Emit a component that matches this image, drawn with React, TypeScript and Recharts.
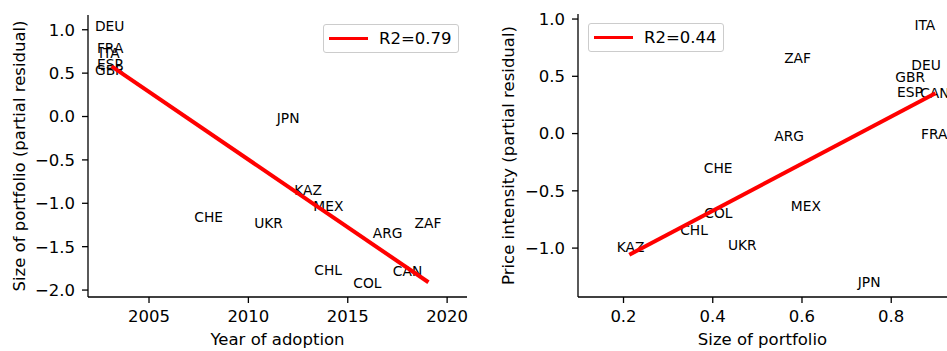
import React from "react";
import { ScatterChart, Scatter, XAxis, YAxis, Legend, Label } from "recharts";

// left panel: year of adoption vs size of portfolio
const leftCountries = ["DEU", "FRA", "ITA", "ESP", "GBR", "JPN", "KAZ", "MEX", "CHE", "UKR", "ZAF", "ARG", "CHL", "COL", "CAN"];
const leftYear = [2002.28, 2002.38, 2002.48, 2002.38, 2002.28, 2011.43, 2012.31, 2013.27, 2007.28, 2010.29, 2018.36, 2016.26, 2013.32, 2015.28, 2017.27];
const leftSize = [0.99, 0.73, 0.67, 0.55, 0.48, -0.07, -0.9, -1.09, -1.21, -1.29, -1.28, -1.4, -1.83, -1.98, -1.84];
const leftFitX = [2003.12, 2019.06];
const leftFitY = [0.577, -1.91];
const leftXTicks = [2005, 2010, 2015, 2020];
const leftYTicks = [-2.0, -1.5, -1.0, -0.5, 0.0, 0.5, 1.0];

// right panel: size of portfolio vs price intensity
const rightCountries = ["ITA", "ZAF", "DEU", "GBR", "ESP", "CAN", "FRA", "ARG", "CHE", "MEX", "COL", "CHL", "KAZ", "UKR", "JPN"];
const rightSize = [0.852, 0.56, 0.845, 0.809, 0.813, 0.865, 0.867, 0.538, 0.38, 0.575, 0.381, 0.327, 0.185, 0.434, 0.725];
const rightPrice = [0.904, 0.619, 0.555, 0.448, 0.316, 0.311, -0.044, -0.064, -0.343, -0.68, -0.738, -0.884, -1.038, -1.015, -1.34];
const rightFitX = [0.213, 0.899];
const rightFitY = [-1.058, 0.352];
const rightXTicks = [0.2, 0.4, 0.6, 0.8];
const rightYTicks = [-1.0, -0.5, 0.0, 0.5, 1.0];

const FONT = "'DejaVu Sans', sans-serif";
const TICK = { fill: "#000", fontSize: 16.5, fontFamily: FONT };
const AXIS = { stroke: "#000", strokeWidth: 1.3 };

const fmt1 = (v: number) => (v < -1e-9 ? "\u2212" : "") + Math.abs(v).toFixed(1);

const zip = (xs: number[], ys: number[], names?: string[]) =>
  xs.map((x, i) => ({ x, y: ys[i], name: names ? names[i] : "" }));

const CountryText = (props: any) => (
  <text x={props.cx} y={props.cy} fontSize={13.8} fontFamily={FONT} fill="#000">
    {props.payload.name}
  </text>
);

const yLabel = (text: string, x: number) => (props: any) => {
  const vb = props.viewBox || {};
  const cy = vb.y + vb.height / 2;
  return (
    <text x={x} y={cy} transform={`rotate(-90, ${x}, ${cy})`} textAnchor="middle"
      dominantBaseline="central" fontSize={16.5} fontFamily={FONT} fill="#000">
      {text}
    </text>
  );
};

const FitLegend = (props: any) => {
  const item = (props.payload || [])[0];
  if (!item) return null;
  return (
    <div style={{
      display: "flex", alignItems: "center", boxSizing: "border-box", height: 29, width: 136,
      border: "1px solid #cccccc", borderRadius: 3, background: "rgba(255,255,255,0.8)",
      paddingLeft: 5, fontFamily: FONT, fontSize: 16.5, color: "#000",
    }}>
      <div style={{ width: 39, height: 3.7, background: "#ff0000", marginRight: 11 }} />
      <span>{item.value}</span>
    </div>
  );
};

function Panel(p: {
  width: number; left: number; marginRight: number; top: number; yWidth: number;
  xDomain: [number, number]; yDomain: [number, number]; xTicks: number[]; yTicks: number[];
  xFmt: (v: number) => string; xLabel: string; yLabelText: string; yLabelX: number;
  points: { x: number; y: number; name: string }[]; fit: { x: number; y: number; name: string }[];
  fitName: string; legendPos: { left: number; top: number };
}) {
  return (
    <div style={{ position: "absolute", left: p.left, top: 0 }}>
      <ScatterChart width={p.width} height={351} margin={{ top: p.top, right: p.marginRight, bottom: 0, left: 0 }}>
        <XAxis type="number" dataKey="x" domain={p.xDomain} ticks={p.xTicks} allowDataOverflow
          tickFormatter={p.xFmt} tick={TICK} axisLine={AXIS} tickLine={AXIS} tickSize={6} tickMargin={7} height={54} interval={0}>
          <Label value={p.xLabel} position="insideBottom" offset={6} fill="#000" fontSize={16.5} fontFamily={FONT} />
        </XAxis>
        <YAxis type="number" dataKey="y" domain={p.yDomain} ticks={p.yTicks} allowDataOverflow
          tickFormatter={fmt1} tick={TICK} axisLine={AXIS} tickLine={AXIS} tickSize={6} tickMargin={7} width={p.yWidth} interval={0}>
          <Label content={yLabel(p.yLabelText, p.yLabelX)} />
        </YAxis>
        <Legend layout="vertical" align="center" verticalAlign="middle" content={FitLegend}
          wrapperStyle={{ left: p.legendPos.left, top: p.legendPos.top, width: "auto", height: "auto" }} />
        <Scatter data={p.points} shape={CountryText} legendType="none" isAnimationActive={false} />
        <Scatter data={p.fit} name={p.fitName} fill="#ff0000" legendType="line" line={{ stroke: "#ff0000", strokeWidth: 4 }}
          shape={() => <g />} isAnimationActive={false} />
      </ScatterChart>
    </div>
  );
}

export default function App() {
  return (
    <div style={{ position: "absolute", left: 0, top: 0, width: 947, height: 351, background: "#fff", overflow: "hidden" }}>
      <Panel width={480} left={0} marginRight={13} top={15} yWidth={88}
        xDomain={[2001.93, 2021.0]} yDomain={[-2.08, 1.17]} xTicks={leftXTicks} yTicks={leftYTicks}
        xFmt={(v) => String(v)} xLabel="Year of adoption" yLabelText="Size of portfolio (partial residual)" yLabelX={19}
        points={zip(leftYear, leftSize, leftCountries)} fit={zip(leftFitX, leftFitY)}
        fitName="R2=0.79" legendPos={{ left: 323, top: 24 }} />
      <Panel width={467} left={480} marginRight={0} top={14} yWidth={98}
        xDomain={[0.098, 0.925]} yDomain={[-1.427, 1.044]} xTicks={rightXTicks} yTicks={rightYTicks}
        xFmt={fmt1} xLabel="Size of portfolio" yLabelText="Price intensity (partial residual)" yLabelX={28}
        points={zip(rightSize, rightPrice, rightCountries)} fit={zip(rightFitX, rightFitY)}
        fitName="R2=0.44" legendPos={{ left: 108, top: 23 }} />
    </div>
  );
}
